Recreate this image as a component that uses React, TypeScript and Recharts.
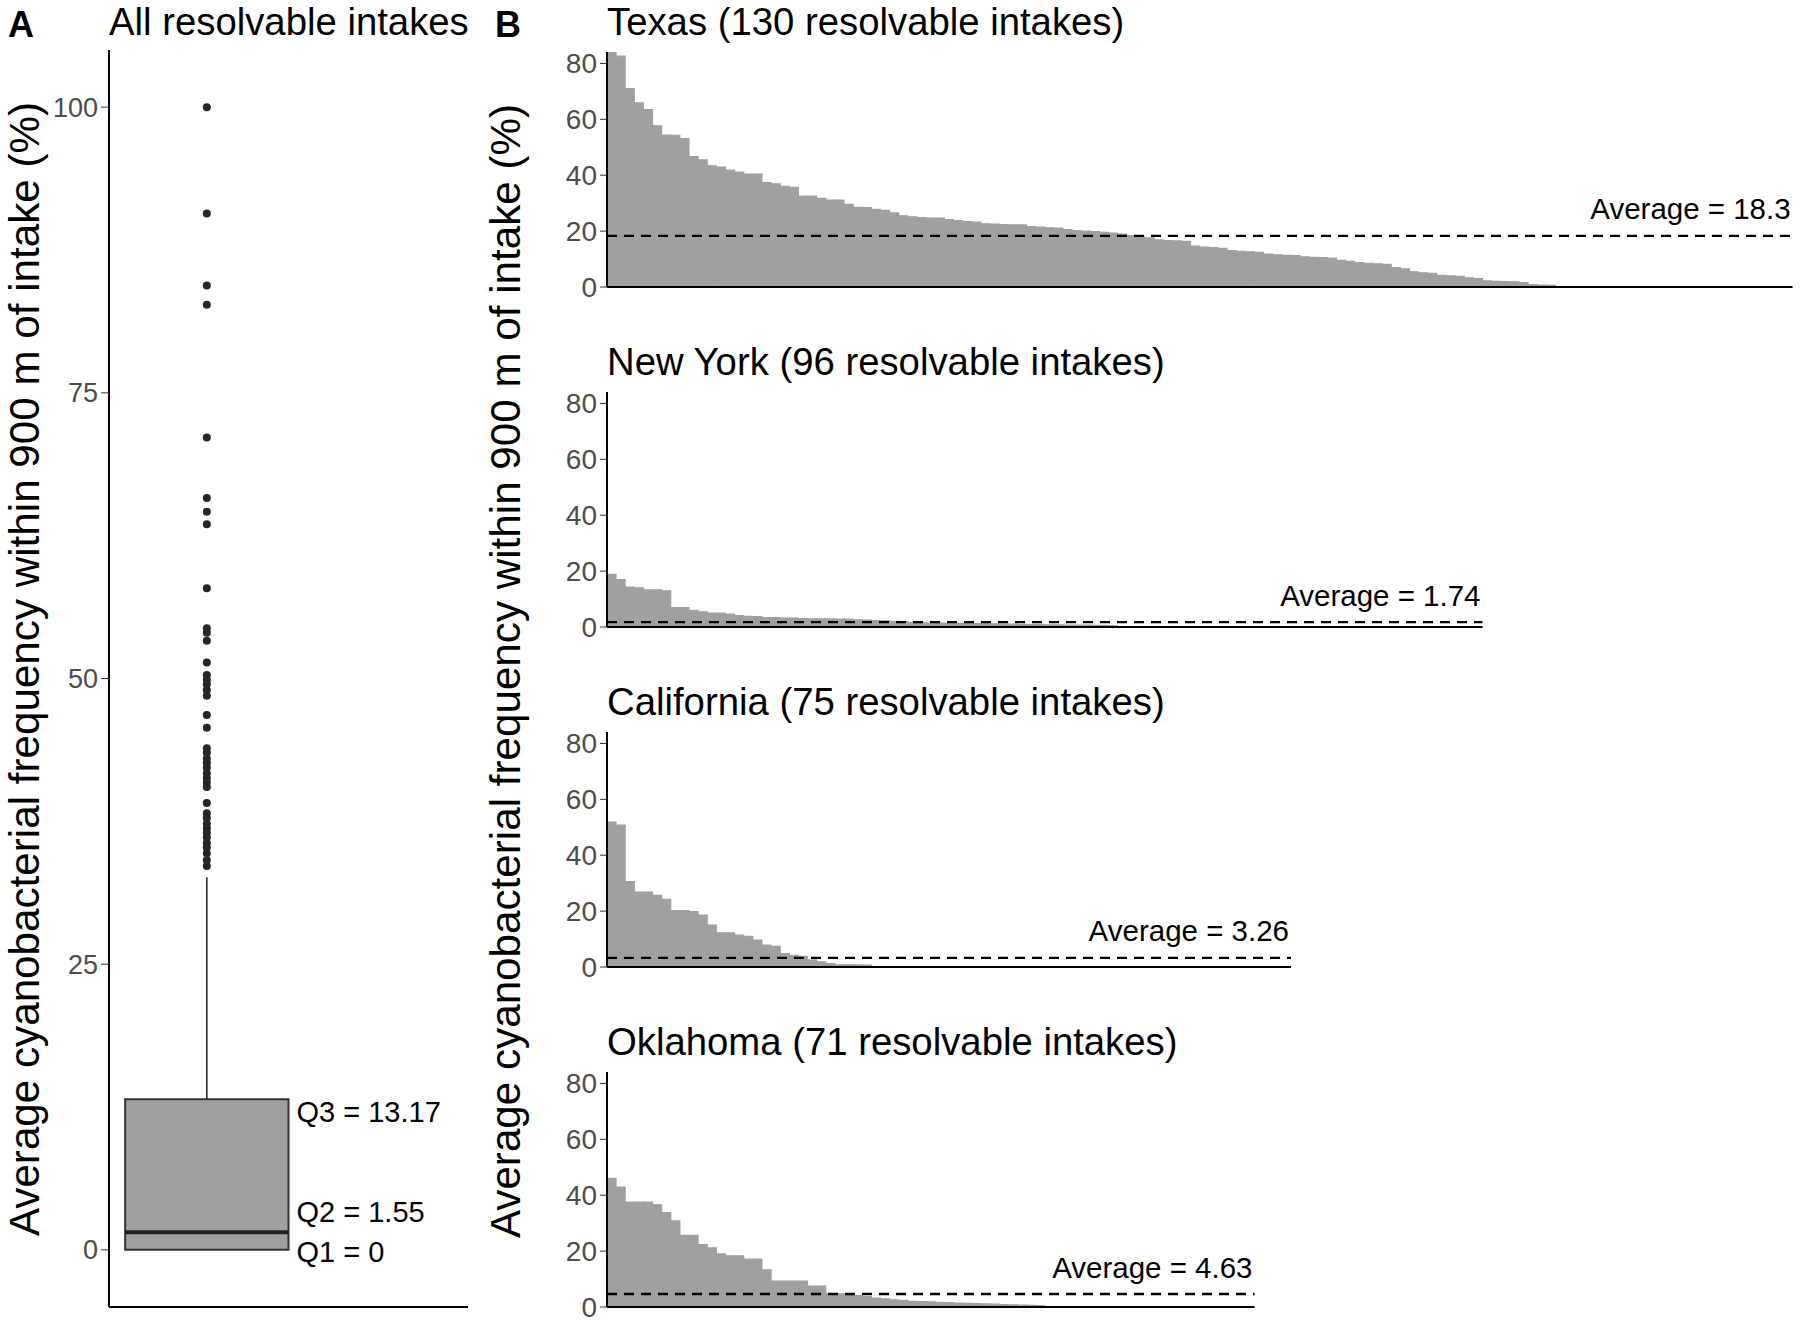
import React from "react";
import {
  BarChart,
  Bar,
  ComposedChart,
  Scatter,
  XAxis,
  YAxis,
  ReferenceLine,
  ReferenceArea,
  ReferenceDot,
} from "recharts";

const FONT = '"Liberation Sans", Arial, Helvetica, sans-serif';
const GREY = "#a0a0a0";
const TICK_GREY = "#4d4d4d";

// Panel A: box plot of all resolvable intakes
const Q1 = 0;
const Q2 = 1.55;
const Q3 = 13.17;
const WHISKER_TOP = 32.6;
const outliers = [
  100, 90.7, 84.4, 82.7, 71.1, 65.8, 64.6, 63.5, 57.9, 54.4, 54.0, 53.3,
  51.4, 50.3, 49.9, 49.5, 49.0, 48.5, 46.8, 45.7, 43.9, 43.5, 43.0, 42.6,
  42.2, 41.7, 41.3, 40.9, 40.5, 39.1, 38.2, 37.8, 37.3, 36.9, 36.5, 36.1,
  35.6, 35.2, 34.7, 34.1, 33.6,
];
const allTicks = [0, 25, 50, 75, 100];

// Panel B: per-state intakes, sorted high to low
const texasValues = [
  84.1, 82.6, 71.0, 65.9, 63.5, 57.7, 54.4, 54.3, 53.1, 46.7,
  45.5, 43.4, 42.9, 41.8, 41.1, 40.4, 40.4, 37.4, 36.9, 36.0,
  35.7, 32.5, 32.5, 31.7, 31.1, 31.1, 29.6, 28.5, 28.4, 27.8,
  27.4, 26.5, 25.5, 25.1, 24.8, 24.7, 24.7, 24.1, 23.8, 23.4,
  23.2, 22.6, 22.5, 22.3, 22.2, 22.2, 21.6, 21.4, 21.2, 21.1,
  20.5, 20.2, 20.0, 19.8, 19.6, 19.3, 18.9, 18.4, 17.9, 17.6,
  16.9, 16.6, 16.5, 16.3, 14.6, 14.3, 14.1, 13.8, 13.0, 12.8,
  12.6, 12.4, 11.8, 11.5, 11.3, 11.2, 10.8, 10.6, 10.5, 10.3,
  9.5, 9.2, 8.7, 8.5, 8.3, 8.1, 6.9, 6.5, 5.4, 5.1,
  4.9, 4.2, 4.0, 3.8, 3.3, 3.0, 2.2, 2.0, 1.9, 1.8,
  1.6, 0.9, 0.7, 0.6, 0, 0, 0, 0, 0, 0,
  0, 0, 0, 0, 0, 0, 0, 0, 0, 0,
  0, 0, 0, 0, 0, 0, 0, 0, 0, 0,
];
const newYorkValues = [
  18.8, 17.0, 14.3, 14.0, 13.3, 13.3, 12.9, 6.9, 6.9, 6.0,
  5.4, 5.0, 5.0, 4.6, 4.1, 3.8, 3.7, 3.4, 3.4, 3.2,
  3.2, 3.0, 2.9, 2.9, 2.9, 2.8, 2.8, 2.6, 2.5, 2.3,
  2.2, 2.0, 1.9, 1.7, 1.5, 1.4, 1.4, 1.3, 1.3, 1.2,
  1.2, 1.1, 1.1, 1.0, 1.0, 0.9, 0.9, 0.9, 0.8, 0.8,
  0.7, 0.7, 0.7, 0.6, 0.6, 0.5, 0, 0, 0, 0,
  0, 0, 0, 0, 0, 0, 0, 0, 0, 0,
  0, 0, 0, 0, 0, 0, 0, 0, 0, 0,
  0, 0, 0, 0, 0, 0, 0, 0, 0, 0,
  0, 0, 0, 0, 0, 0,
];
const californiaValues = [
  51.9, 50.8, 30.6, 26.8, 26.8, 25.6, 24.2, 20.2, 20.2, 19.8,
  18.6, 15.0, 12.2, 12.2, 11.4, 11.0, 9.6, 7.8, 7.4, 4.8,
  4.2, 3.8, 2.6, 1.8, 1.2, 0.8, 0.8, 0.8, 0.7, 0,
  0, 0, 0, 0, 0, 0, 0, 0, 0, 0,
  0, 0, 0, 0, 0, 0, 0, 0, 0, 0,
  0, 0, 0, 0, 0, 0, 0, 0, 0, 0,
  0, 0, 0, 0, 0, 0, 0, 0, 0, 0,
  0, 0, 0, 0, 0,
];
const oklahomaValues = [
  46.0, 42.9, 37.5, 37.5, 37.5, 36.6, 33.8, 30.8, 25.6, 25.6,
  22.3, 21.2, 19.0, 18.3, 18.3, 17.1, 17.1, 13.3, 9.3, 9.3,
  9.3, 9.3, 7.5, 7.5, 4.7, 4.7, 4.3, 4.1, 3.7, 3.2,
  2.9, 2.6, 2.4, 2.0, 1.9, 1.8, 1.7, 1.6, 1.4, 1.3,
  1.2, 1.1, 1.0, 0.9, 0.8, 0.7, 0.6, 0.5, 0, 0,
  0, 0, 0, 0, 0, 0, 0, 0, 0, 0,
  0, 0, 0, 0, 0, 0, 0, 0, 0, 0,
  0,
];
const stateNames = ["Texas", "New York", "California", "Oklahoma"];
const stateAverages = [18.3, 1.74, 3.26, 4.63];
const stateSeries = [texasValues, newYorkValues, californiaValues, oklahomaValues];
const stateTicks = [0, 20, 40, 60, 80];

const Y_MAX = Math.max(...texasValues);
const BAR_STEP = 9.12;
const PLOT_H = 235;
const PANEL_BOTTOMS = [287, 627, 967, 1307];
const PAD = 24;

// box geometry on a 0..1 x scale
const BOX_LEFT = 0.045;
const BOX_RIGHT = 0.5;
const BOX_CENTER = 0.2725;

function QLabel(props: any) {
  const { viewBox, text, dy } = props;
  return (
    <text
      x={viewBox.x + 8}
      y={viewBox.y + dy}
      dominantBaseline="central"
      fontSize={29}
      fill="#000"
      fontFamily={FONT}
    >
      {text}
    </text>
  );
}

function AvgLabel(props: any) {
  const { viewBox, text } = props;
  return (
    <text
      x={viewBox.x + viewBox.width - 2}
      y={viewBox.y - 27}
      textAnchor="end"
      dominantBaseline="central"
      fontSize={29.5}
      fill="#000"
      fontFamily={FONT}
    >
      {text}
    </text>
  );
}

function AllIntakesPanel() {
  const points = outliers.map((v) => ({ x: BOX_CENTER, y: v }));
  return (
    <div style={{ position: "absolute", left: 0, top: 0 }}>
      <ComposedChart
        width={480}
        height={1324}
        margin={{ top: 50, right: 12, bottom: 15, left: 0 }}
      >
        <XAxis
          type="number"
          dataKey="x"
          domain={[0, 1]}
          tick={false}
          tickLine={false}
          height={2}
          axisLine={{ stroke: "#000", strokeWidth: 2 }}
        />
        <YAxis
          type="number"
          dataKey="y"
          domain={[-5, 105]}
          ticks={allTicks}
          width={109}
          tickSize={8}
          tickMargin={3}
          tick={{ fill: TICK_GREY, fontSize: 27, fontFamily: FONT }}
          tickLine={{ stroke: "#333" }}
          axisLine={{ stroke: "#000", strokeWidth: 2 }}
        />
        <ReferenceArea
          x1={BOX_LEFT}
          x2={BOX_RIGHT}
          y1={Q1}
          y2={Q3}
          fill={GREY}
          fillOpacity={1}
          stroke="#333"
          strokeWidth={2}
        />
        <ReferenceLine
          segment={[
            { x: BOX_LEFT, y: Q2 },
            { x: BOX_RIGHT, y: Q2 },
          ]}
          stroke="#222"
          strokeWidth={4}
        />
        <ReferenceLine
          segment={[
            { x: BOX_CENTER, y: Q3 },
            { x: BOX_CENTER, y: WHISKER_TOP },
          ]}
          stroke="#222"
          strokeWidth={1.5}
        />
        <ReferenceDot x={BOX_RIGHT} y={Q3} r={0} label={<QLabel text="Q3 = 13.17" dy={13} />} />
        <ReferenceDot x={BOX_RIGHT} y={Q2} r={0} label={<QLabel text="Q2 = 1.55" dy={-20} />} />
        <ReferenceDot x={BOX_RIGHT} y={Q1} r={0} label={<QLabel text="Q1 = 0" dy={2} />} />
        <Scatter
          data={points}
          dataKey="y"
          isAnimationActive={false}
          shape={(p: any) => <circle cx={p.cx} cy={p.cy} r={4} fill="#262626" />}
        />
      </ComposedChart>
    </div>
  );
}

function StatePanel({ values, average, bottom }: { values: number[]; average: number; bottom: number }) {
  const plotWidth = values.length * BAR_STEP;
  const data = values.map((v, i) => ({ intake: i + 1, value: v }));
  const width = 67 + plotWidth + 12;
  return (
    <div style={{ position: "absolute", left: 540, top: bottom - PLOT_H - PAD }}>
      <BarChart
        width={width}
        height={PLOT_H + 2 * PAD + 2}
        data={data}
        margin={{ top: PAD, right: 12, bottom: PAD, left: 0 }}
        barCategoryGap={0}
        barGap={0}
      >
        <XAxis
          dataKey="intake"
          type="category"
          tick={false}
          tickLine={false}
          height={2}
          axisLine={{ stroke: "#000", strokeWidth: 2 }}
        />
        <YAxis
          type="number"
          domain={[0, Y_MAX]}
          ticks={stateTicks}
          width={67}
          tickSize={7}
          tickMargin={3}
          allowDataOverflow
          tick={{ fill: TICK_GREY, fontSize: 28, fontFamily: FONT }}
          tickLine={{ stroke: "#333" }}
          axisLine={{ stroke: "#000", strokeWidth: 2 }}
        />
        <Bar
          dataKey="value"
          fill={GREY}
          stroke={GREY}
          strokeWidth={1.2}
          isAnimationActive={false}
        />
        <ReferenceLine
          y={average}
          stroke="#000"
          strokeWidth={2.4}
          strokeDasharray="10 7"
          label={<AvgLabel text={`Average = ${average}`} />}
        />
      </BarChart>
    </div>
  );
}

const Y_LABEL = "Average cyanobacterial frequency within 900 m of intake (%)";

export default function App() {
  return (
    <div
      style={{
        position: "absolute",
        left: 0,
        top: 0,
        width: 1800,
        height: 1324,
        background: "#fff",
        fontFamily: FONT,
      }}
    >
      <AllIntakesPanel />
      {stateSeries.map((values, i) => (
        <StatePanel
          key={stateNames[i]}
          values={values}
          average={stateAverages[i]}
          bottom={PANEL_BOTTOMS[i]}
        />
      ))}
      <svg
        width={1800}
        height={1324}
        style={{ position: "absolute", left: 0, top: 0, pointerEvents: "none" }}
        fontFamily={FONT}
      >
        <text x={8} y={37} fontSize={36} fontWeight="bold">A</text>
        <text x={109} y={35} fontSize={38.3}>All resolvable intakes</text>
        <text x={495} y={37} fontSize={36} fontWeight="bold">B</text>
        {stateNames.map((name, i) => (
          <text key={name} x={607} y={PANEL_BOTTOMS[i] - PLOT_H - 17} fontSize={38.3}>
            {`${name} (${stateSeries[i].length} resolvable intakes)`}
          </text>
        ))}
        <text
          x={39}
          y={669}
          fontSize={42.2}
          textAnchor="middle"
          transform="rotate(-90, 39, 669)"
        >
          {Y_LABEL}
        </text>
        <text
          x={520}
          y={671}
          fontSize={42.2}
          textAnchor="middle"
          transform="rotate(-90, 520, 671)"
        >
          {Y_LABEL}
        </text>
      </svg>
    </div>
  );
}
